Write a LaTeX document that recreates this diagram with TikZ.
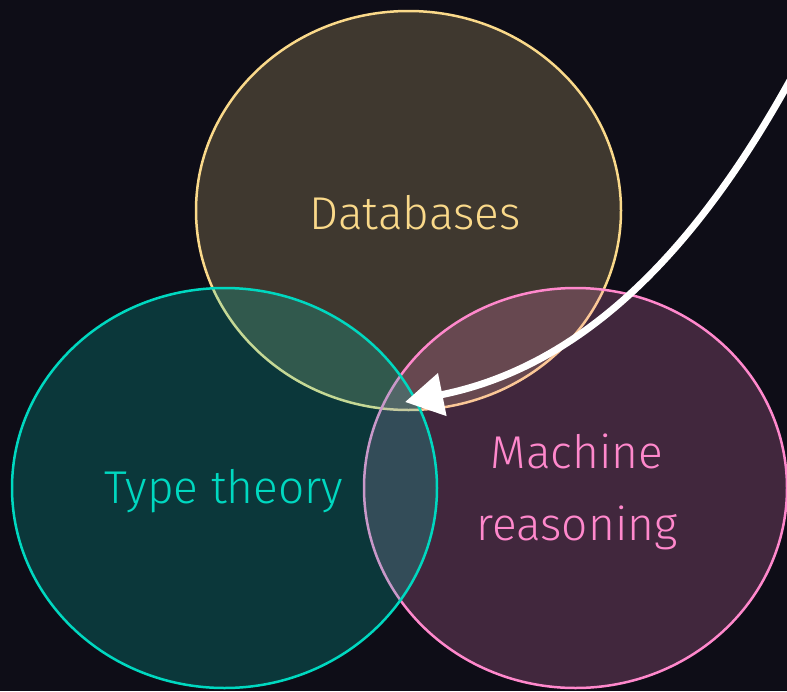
\documentclass[tikz,border=0pt]{standalone}
\usepackage{fontspec}
\setmainfont{Fira Sans Light}
\usetikzlibrary{arrows.meta}
\definecolor{bg}{HTML}{0E0D17}
\definecolor{dbc}{HTML}{FAD98A}
\definecolor{ttc}{HTML}{00D8C0}
\definecolor{mrc}{HTML}{FF88CC}
\tikzset{
  venn/.style={draw, line width=2.5pt, fill opacity=0.21},
  lbl/.style={font=\fontsize{46}{72}\selectfont, align=center, inner sep=0pt}
}
\begin{document}
\begin{tikzpicture}[x=1pt,y=-1pt]
\fill[bg] (0,0) rectangle (787,691);
\useasboundingbox (0,0) rectangle (787,691);
\draw[venn, dbc, fill=dbc] (408.5,210.5) ellipse [x radius=212.5, y radius=199.5];
\draw[venn, mrc, fill=mrc] (575.5,488) ellipse [x radius=211.5, y radius=200];
\draw[venn, ttc, fill=ttc] (224.5,488) ellipse [x radius=212.5, y radius=200];
\node[lbl, text=dbc] (db) at (415,213) {Databases};
\node[lbl, text=ttc] (tt) at (224,491) {Type theory};
\node[lbl, text=mrc] (mr) at (577,492) {Machine\\reasoning};
\coordinate (s) at (800,62);
\coordinate (t) at (405,402);
\draw[white, line width=7pt, -{Triangle[length=38pt,width=42pt]}] (s) .. controls (705,240) and (590,365) .. (t);
\end{tikzpicture}
\end{document}
